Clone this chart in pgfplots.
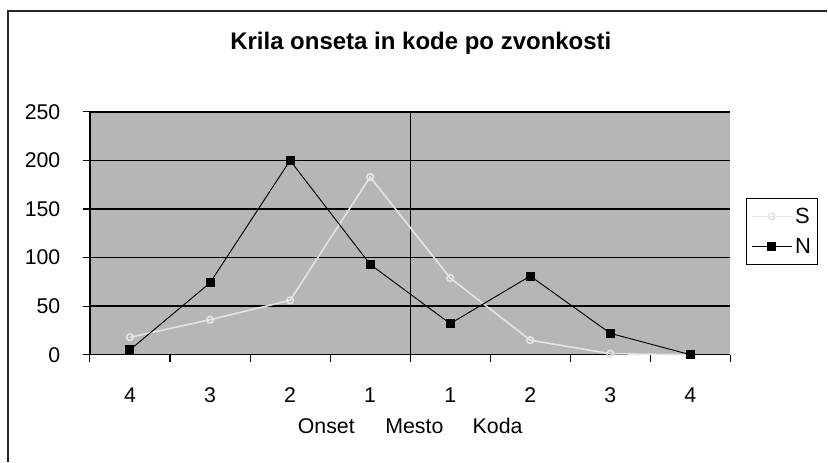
\documentclass[border=0pt]{standalone}
\usepackage{pgfplots}
\pgfplotsset{compat=1.18}
\usepackage{fontspec}
\setmainfont{Liberation Sans}
\definecolor{bgc}{RGB}{182,182,182}
\definecolor{sc}{RGB}{228,228,228}
\pgfplotstableread{
x S N
0 18 5
1 36 74
2 56 200
3 183 93
4 79 32
5 15 81
6 1 22
7 0 0
}\data
\begin{document}
\begin{tikzpicture}[x=0.75pt,y=0.75pt]
\path (-90,-107) rectangle (738,355);
\draw[line width=1pt,black!85] (-82,-107) -- (-82,344) -- (738,344);
\begin{axis}[
  at={(0,0)}, anchor=south west,
  scale only axis, width=480.75pt, height=182.25pt,
  xmin=-0.5, xmax=7.5, ymin=0, ymax=250,
  axis background/.style={fill=bgc},
  axis x line*=bottom, axis y line*=left,
  axis line style={-, black, line width=1pt},
  xtick={0,...,7}, xticklabels={4,3,2,1,1,2,3,4},
  major x tick style={draw=none},
  minor xtick={-0.5,0.5,...,7.5},
  minor x tick style={black, line width=0.8pt},
  minor tick length=5.5pt,
  ytick={0,50,...,250},
  y tick style={black, line width=0.8pt},
  major tick length=5.5pt,
  tick align=outside,
  ymajorgrids, grid style={black, line width=1.1pt},
  /pgf/number format/assume math mode=true,
  tick label style={font=\fontsize{16}{19}\selectfont},
  xticklabel style={anchor=base, inner sep=0pt, yshift=-30pt},
  yticklabel style={anchor=east, inner sep=0pt, xshift=-16.5pt},
  xlabel={Onset\hspace{23pt}Mesto\hspace{22pt}Koda},
  xlabel style={at={(axis description cs:0.5,0)}, anchor=base, yshift=-59pt, font=\fontsize{16}{19}\selectfont},
  title={\textbf{Krila onseta in kode po zvonkosti}},
  title style={at={(axis description cs:0.5,1)}, anchor=base, yshift=41pt, xshift=8pt, font=\fontsize{18}{22}\selectfont},
  legend style={at={(axis description cs:1.025,0.646)}, anchor=north west,
    draw=black, line width=0.8pt, fill=white, font=\fontsize{16.5}{20}\selectfont,
    inner xsep=3pt, inner ysep=5pt, row sep=6pt, cells={anchor=west}},
  legend image code/.code={\draw[mark repeat=2,mark phase=2] plot coordinates {(0pt,0pt)(15pt,0pt)(30pt,0pt)};},
  legend cell align=left,
  clip=false,
]
\draw[black, line width=1pt] (axis cs:3.5,0) -- (axis cs:3.5,250);
\addplot[sc, line width=1.2pt, mark=o, mark size=2.5pt, mark options={solid, sc}] table[x=x,y=S]{\data};
\addlegendentry{S}
\addplot[black, line width=0.7pt, mark=square*, mark size=3pt] table[x=x,y=N]{\data};
\addlegendentry{N}
\end{axis}
\end{tikzpicture}
\end{document}
